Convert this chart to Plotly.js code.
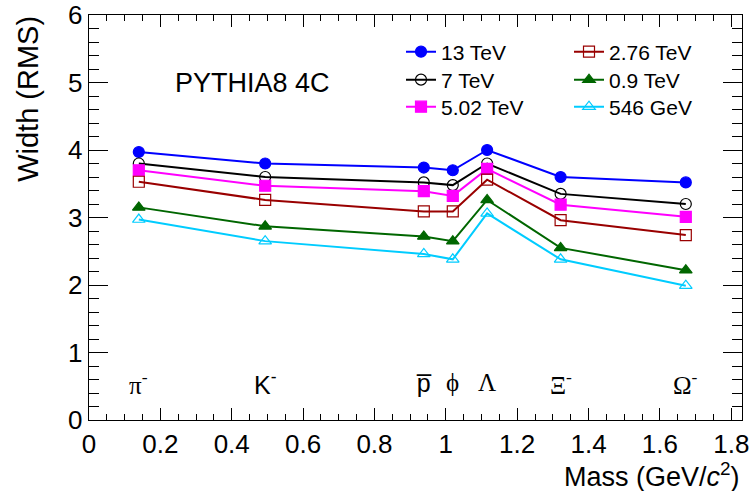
<!DOCTYPE html>
<html>
<head>
<meta charset="utf-8">
<script src="https://cdn.plot.ly/plotly-3.0.1.min.js"></script>
<style>html,body{margin:0;padding:0;background:#fff;} #chart{width:755px;height:491px;}</style>
</head>
<body>
<div id="chart"></div>
<script>
// Particle labels and masses (GeV/c^2)
var particles = ['π<sup>-</sup>', 'K<sup>-</sup>', 'p\u0305', 'ϕ', 'Λ', 'Ξ<sup>-</sup>', 'Ω<sup>-</sup>'];
var particleSerif = [true, false, false, true, true, true, true];
var mass = [0.1396, 0.4937, 0.9383, 1.0195, 1.1157, 1.3217, 1.6725];

// Width (RMS) per collision energy
var seriesNames = ['13 TeV', '7 TeV', '5.02 TeV', '2.76 TeV', '0.9 TeV', '546 GeV'];
var w13   = [3.97, 3.80, 3.74, 3.70, 4.00, 3.60, 3.52];
var w7    = [3.80, 3.60, 3.52, 3.48, 3.80, 3.35, 3.20];
var w502  = [3.70, 3.47, 3.39, 3.32, 3.72, 3.19, 3.01];
var w276  = [3.53, 3.26, 3.09, 3.09, 3.56, 2.96, 2.74];
var w09   = [3.15, 2.87, 2.72, 2.65, 3.26, 2.55, 2.22];
var w546  = [2.97, 2.65, 2.46, 2.38, 3.06, 2.38, 1.99];

var seriesValues = [w13, w7, w502, w276, w09, w546];
var colors = ['#0000ff', '#000000', '#ff00ff', '#990000', '#006600', '#00ccff'];
var symbols = ['circle', 'circle-open', 'square', 'square-open', 'triangle-up', 'triangle-up-open'];

var legendIds = ['legend', 'legend2', 'legend3', 'legend4', 'legend5', 'legend6'];

var traces = seriesValues.map(function (vals, i) {
  return {
    x: mass, y: vals, type: 'scatter', mode: 'lines+markers',
    name: seriesNames[i], legend: legendIds[i],
    line: {color: colors[i], width: 2},
    marker: {color: colors[i], symbol: symbols[i], size: 11, line: {color: colors[i], width: 1.2}}
  };
});

var annotations = particles.map(function (p, i) {
  return {
    x: mass[i], y: 0.55, xref: 'x', yref: 'y', text: p, showarrow: false,
    xanchor: 'center', yanchor: 'middle',
    font: {family: particleSerif[i] ? 'Liberation Serif, serif' : 'Liberation Sans, Arial, sans-serif', size: 25, color: '#000'}
  };
});
annotations.push({
  x: 0.457, y: 4.99, xref: 'x', yref: 'y', text: 'PYTHIA8 4C', showarrow: false,
  xanchor: 'center', yanchor: 'middle', font: {size: 27, color: '#000'}
});
annotations.push({
  x: -0.0934, y: 0.793, xref: 'paper', yref: 'paper', text: 'Width (RMS)', showarrow: false,
  textangle: -90, xanchor: 'center', yanchor: 'middle', font: {size: 29, color: '#000'}
});
annotations.push({
  x: 1.0, y: -0.09, xref: 'paper', yref: 'paper', text: 'Mass (GeV/<i>c</i><sup>2</sup>)', showarrow: false,
  xanchor: 'right', yanchor: 'top', font: {size: 27, color: '#000'}
});

var axisCommon = {
  showgrid: false, zeroline: false, showline: true, linecolor: '#000', linewidth: 1.3,
  mirror: 'ticks', ticks: 'inside', tickcolor: '#000', tickwidth: 1,
  tickfont: {size: 26, color: '#000'}
};

function legendAt(px, py) {
  return {x: (px - 89) / 653, y: (420 - py) / 405, xanchor: 'left', yanchor: 'middle',
          bgcolor: 'rgba(0,0,0,0)', font: {size: 21, color: '#000'}};
}

var layout = {
  width: 755, height: 491,
  margin: {l: 89, r: 13, t: 15, b: 71},
  paper_bgcolor: '#fff', plot_bgcolor: '#fff',
  font: {family: 'Liberation Sans, Arial, sans-serif', color: '#000'},
  showlegend: true,
  xaxis: Object.assign({}, axisCommon, {
    range: [0, 1.83], dtick: 0.2, tick0: 0, ticklen: 12,
    minor: {dtick: 0.05, ticklen: 6, ticks: 'inside', tickcolor: '#000'}
  }),
  yaxis: Object.assign({}, axisCommon, {
    range: [0, 6], dtick: 1, tick0: 0, ticklen: 19,
    minor: {dtick: 0.2, ticklen: 10, ticks: 'inside', tickcolor: '#000'}
  }),
  legend:  legendAt(401, 52),
  legend2: legendAt(401, 80),
  legend3: legendAt(401, 107),
  legend4: legendAt(569, 52),
  legend5: legendAt(569, 80),
  legend6: legendAt(569, 107),
  annotations: annotations
};

Plotly.newPlot('chart', traces, layout, {displayModeBar: false, staticPlot: true});
</script>
</body>
</html>
